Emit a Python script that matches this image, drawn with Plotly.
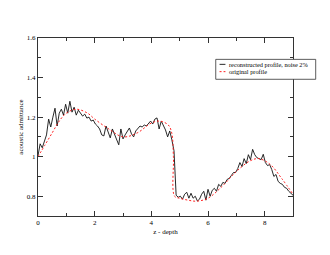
import numpy as np
import plotly.graph_objects as go

# noisy reconstruction, sampled every 0.075 from 0 to 9
recon_depth = np.linspace(0, 9, 121)
recon_values = [
    1.005, 1.065, 1.045, 1.08, 1.11, 1.19, 1.15, 1.20, 1.245, 1.155,
    1.22, 1.24, 1.21, 1.265, 1.22, 1.28, 1.225, 1.25, 1.21, 1.235,
    1.22, 1.205, 1.215, 1.195, 1.20, 1.18, 1.185, 1.165, 1.155, 1.14,
    1.11, 1.105, 1.155, 1.12, 1.095, 1.14, 1.11, 1.08, 1.06, 1.14,
    1.09, 1.11, 1.125, 1.145, 1.115, 1.10, 1.13, 1.14, 1.155, 1.15,
    1.16, 1.155, 1.17, 1.18, 1.165, 1.19, 1.196, 1.14, 1.18, 1.16,
    1.135, 1.10, 1.13, 1.085, 1.03, 0.805, 0.795, 0.80, 0.785, 0.81,
    0.82, 0.79, 0.815, 0.79, 0.80, 0.776, 0.785, 0.81, 0.825, 0.78,
    0.835, 0.80, 0.83, 0.84, 0.825, 0.86, 0.85, 0.87, 0.865, 0.885,
    0.89, 0.905, 0.92, 0.92, 0.94, 0.97, 0.95, 0.99, 0.965, 1.01,
    0.985, 1.037, 1.01, 0.995, 0.99, 0.985, 1.012, 0.97, 0.955, 0.96,
    0.935, 0.90, 0.91, 0.875, 0.865, 0.86, 0.845, 0.84, 0.825, 0.815,
    0.805,
]

orig_depth = [0, 0.25, 0.5, 0.75, 1.0, 1.35, 1.75, 2.0, 2.5, 3.0, 3.5, 4.0,
              4.3, 4.6, 4.72, 4.78, 4.82, 5.0, 5.3, 5.6, 6.0, 6.5, 7.0, 7.5,
              7.8, 8.2, 8.6, 9.0]
orig_values = [1.00, 1.06, 1.12, 1.18, 1.22, 1.24, 1.22, 1.19, 1.14, 1.10,
               1.12, 1.17, 1.18, 1.16, 1.12, 1.00, 0.80, 0.79, 0.78, 0.775,
               0.79, 0.85, 0.925, 0.98, 0.99, 0.96, 0.89, 0.81]

names = ["reconstructed profile, noise 2%", "original profile"]
x_ticks = [0, 2, 4, 6, 8]
y_ticks = [0.8, 1, 1.2, 1.4, 1.6]

FONT = "Liberation Serif"

fig = go.Figure()
fig.add_trace(go.Scatter(x=recon_depth, y=recon_values, mode="lines",
                         line=dict(color="#111111", width=0.9), name=names[0]))
fig.add_trace(go.Scatter(x=orig_depth, y=orig_values, mode="lines",
                         line=dict(color="#ff2020", width=1, dash="2px,2px"),
                         line_shape="spline", name=names[1]))

axis_common = dict(showline=True, linecolor="#333333", linewidth=1, mirror="ticks",
                   ticks="inside", ticklen=5, tickcolor="#333333", showgrid=False,
                   zeroline=False, automargin=False,
                   tickfont=dict(family=FONT, size=7, color="black"))

fig.update_layout(
    width=330, height=255,
    margin=dict(l=38, r=37, t=38, b=39),
    paper_bgcolor="white", plot_bgcolor="white",
    showlegend=False,
    xaxis=dict(range=[0, 9], tickvals=x_ticks,
               minor=dict(dtick=1, ticks="inside", ticklen=3, tickcolor="#333333"),
               title=dict(text="z - depth", font=dict(family=FONT, size=7, color="black"),
                          standoff=2),
               **axis_common),
    yaxis=dict(range=[0.7, 1.6], tickvals=y_ticks,
               minor=dict(dtick=0.1, ticks="inside", ticklen=3, tickcolor="#333333"),
               title=dict(text="acoustic admittance", font=dict(family=FONT, size=7, color="black"),
                          standoff=2),
               **axis_common),
)

# manual legend box
fig.add_shape(type="rect", xref="paper", yref="paper", x0=0.697, x1=1.089, y0=0.768, y1=0.880,
              line=dict(color="#333333", width=0.8), fillcolor="white", layer="above")
fig.add_shape(type="line", xref="paper", yref="paper", x0=0.712, x1=0.735, y0=0.852, y1=0.852,
              line=dict(color="#111111", width=0.9), layer="above")
fig.add_shape(type="line", xref="paper", yref="paper", x0=0.712, x1=0.735, y0=0.811, y1=0.811,
              line=dict(color="#ff2020", width=1, dash="2px,2px"), layer="above")
for yy, txt in zip([0.852, 0.811], names):
    fig.add_annotation(xref="paper", yref="paper", x=0.743, y=yy, text=txt, showarrow=False,
                       xanchor="left", yanchor="middle",
                       font=dict(family=FONT, size=6.3, color="black"))

fig.write_html("out.html", config={"displayModeBar": False},
               post_script="document.body.style.margin='0';")
